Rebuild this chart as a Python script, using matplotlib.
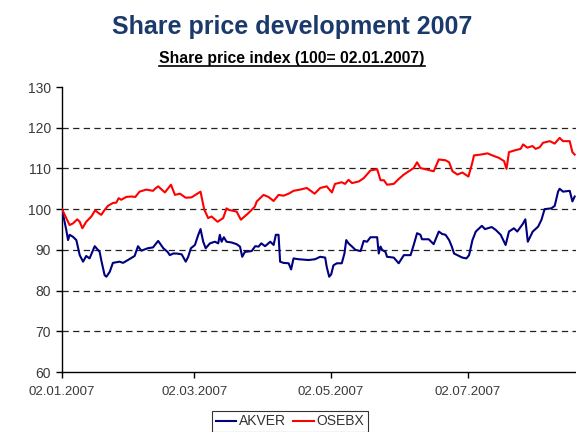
import matplotlib
matplotlib.use("Agg")
import matplotlib.pyplot as plt
import matplotlib.dates as mdates
from matplotlib.lines import Line2D
import pandas as pd

plt.rcParams['font.family'] = ['Liberation Sans', 'DejaVu Sans']

# Days after 02.01.2007 and index values (100 = 02.01.2007)
osebx_days = [0, 3.4, 4.9, 6.8, 7.9, 9.1, 10.8, 13.1, 14.8, 16.4, 17.5, 19.0, 20.5, 22.7, 24.2,
              25.3, 26.4, 28.7, 30.9, 32.7, 34.6, 37.6, 40.6, 41.5, 42.9, 45.9, 48.6, 50.4, 52.6,
              55.2, 57.8, 61.8, 63.4, 65.2, 66.7, 69.4, 71.9, 73.4, 74.5, 77.9, 79.8, 83.1, 86.0,
              86.9, 89.9, 92.1, 94.4, 96.6, 98.8, 101.1, 103.3, 106.2, 109.2, 110.7, 112.7, 115.2,
              118.1, 120.4, 121.8, 124.8, 126.3, 127.8, 129.4, 132.4, 134.6, 137.6, 140.6, 142.1,
              143.6, 145.0, 148.0, 150.2, 152.5, 154.7, 156.9, 158.4, 159.9, 162.9, 165.8, 168.1,
              171.1, 172.7, 174.2, 176.4, 178.6, 181.3, 182.8, 183.8, 186.8, 189.8, 192.0, 194.9,
              197.2, 198.3, 199.4, 202.4, 204.6, 205.7, 207.6, 209.9, 211.3, 213.1, 214.6, 217.6,
              219.8, 222.0, 223.5, 226.5, 227.7, 228.7]
osebx = [100.0, 96.1, 96.5, 97.5, 96.9, 95.3, 96.9, 98.2, 99.7, 99.0, 98.6, 99.8, 100.8, 101.5, 101.6,
         102.7, 102.3, 103.0, 103.1, 103.0, 104.3, 104.8, 104.5, 105.0, 105.6, 104.1, 106.0, 103.5, 103.8,
         102.8, 102.9, 104.3, 100.0, 97.8, 98.2, 96.9, 97.8, 100.2, 99.8, 99.4, 97.4, 99.0, 100.6,
         101.9, 103.5, 103.0, 102.0, 103.5, 103.3, 103.8, 104.5, 104.8, 105.2, 104.6, 103.8, 105.2,
         105.6, 104.1, 106.2, 106.6, 106.2, 107.2, 106.4, 106.8, 107.6, 109.5, 109.8, 107.1,
         107.1, 106.0, 106.2, 107.4, 108.5, 109.3, 110.1, 111.5, 110.1, 109.7, 109.3, 112.2,
         112.0, 111.5, 109.3, 108.5, 109.0, 108.0, 110.9, 113.2, 113.4, 113.7, 113.2, 112.6,
         111.8, 109.9, 114.0, 114.5, 114.8, 115.9, 115.1, 115.5, 114.8, 115.2, 116.3, 116.7,
         116.1, 117.5, 116.7, 116.7, 114.0, 113.4]

akver_days = [0, 1.9, 2.7, 3.4, 4.9, 6.4, 7.9, 9.4, 10.8, 12.3, 14.6, 16.8, 17.5, 19.0, 19.8, 21.3,
              22.7, 25.7, 27.2, 29.4, 32.4, 33.9, 35.4, 38.3, 40.6, 42.9, 45.2, 47.1, 48.1, 49.6,
              51.1, 53.4, 55.2, 56.3, 57.5, 59.3, 60.8, 61.8, 63.0, 64.1, 66.0, 68.2, 69.7, 70.4,
              71.2, 72.2, 73.4, 75.7, 77.9, 79.4, 80.4, 81.6, 84.6, 86.2, 87.7, 88.9, 90.6, 92.9,
              94.4, 95.4, 96.6, 97.3, 98.8, 101.1, 102.2, 103.3, 105.5, 110.0, 112.9, 115.2, 117.4,
              118.1, 119.2, 120.1, 121.1, 122.6, 124.8, 126.0, 126.8, 127.8, 129.4, 130.9, 133.2,
              134.6, 136.1, 137.6, 140.6, 141.3, 142.1, 142.8, 144.3, 145.0, 148.0, 150.2, 152.5,
              155.5, 156.9, 158.4, 159.9, 160.6, 163.6, 165.8, 168.1, 169.6, 171.1, 172.7, 173.9,
              174.9, 176.4, 178.6, 180.4, 181.6, 183.1, 184.6, 187.3, 188.7, 191.7, 193.5, 195.7,
              197.9, 199.4, 201.6, 203.1, 205.6, 206.7, 207.8, 210.0, 212.4, 213.9, 215.3, 218.3,
              219.8, 221.3, 222.0, 223.5, 226.5, 227.7, 228.7]
akver = [100.0, 94.9, 92.4, 93.7, 93.2, 92.4, 88.7, 87.1, 88.5, 87.9, 90.9, 89.5, 87.5, 83.8, 83.4, 84.6,
         86.8, 87.1, 86.8, 87.5, 88.5, 90.9, 89.8, 90.4, 90.6, 92.2, 90.4, 89.5, 88.7, 89.1,
         89.1, 88.9, 87.1, 88.3, 90.4, 91.2, 93.7, 95.1, 92.0, 90.4, 91.6, 92.0, 91.6, 93.7,
         92.0, 93.1, 92.0, 91.8, 91.4, 90.8, 88.3, 89.5, 89.7, 90.9, 90.8, 91.6, 90.9, 92.0,
         91.2, 93.7, 93.7, 87.1, 86.8, 86.7, 85.2, 87.9, 87.7, 87.5, 87.7, 88.3, 88.1,
         85.8, 83.4, 84.0, 86.2, 86.7, 86.7, 89.1, 92.4, 91.6, 90.8, 90.0, 89.7,
         92.2, 92.0, 93.1, 93.1, 89.1, 90.8, 90.0, 89.5, 88.3, 88.1, 86.7, 88.7,
         88.7, 91.2, 94.1, 93.7, 92.6, 92.6, 91.4, 94.5, 93.9, 93.7, 92.4, 90.8,
         89.1, 88.7, 88.1, 87.9, 88.7, 92.4, 94.5, 95.9, 95.1, 95.6, 94.9, 93.7,
         91.2, 94.5, 95.3, 94.5, 96.4, 97.5, 92.0, 94.5, 95.7, 97.4, 100.0, 100.2,
         100.8, 104.3, 105.0, 104.3, 104.5, 101.9, 103.1]

series_names = ["AKVER", "OSEBX"]
tick_dates = ["2007-01-02", "2007-03-02", "2007-05-02", "2007-07-02"]
y_ticks = [60, 70, 80, 90, 100, 110, 120, 130]
grid_levels = [70, 80, 90, 100, 110, 120]

start = pd.Timestamp("2007-01-02")
osebx_x = start + pd.to_timedelta(osebx_days, unit="D")
akver_x = start + pd.to_timedelta(akver_days, unit="D")

fig = plt.figure(figsize=(5.76, 4.32), dpi=100)
ax = fig.add_axes([62/576, 1-372/432, 1-62/576, (372-87)/432])

for lvl in grid_levels:
    ax.axhline(lvl, color="#222222", lw=0.9, ls=(0, (5, 3.5)), zorder=1)

ax.plot(akver_x, akver, color="#000080", lw=1.5, label=series_names[0], zorder=3)
ax.plot(osebx_x, osebx, color="#FF0000", lw=1.5, label=series_names[1], zorder=3)

ax.set_ylim(60, 130)
ax.set_yticks(y_ticks)
ax.set_xlim(start, start + pd.Timedelta(days=229.3))
ax.set_xticks(pd.to_datetime(tick_dates))
ax.xaxis.set_major_formatter(mdates.DateFormatter("%d.%m.%Y"))
ax.spines["top"].set_visible(False)
ax.spines["right"].set_visible(False)
for s in ["left", "bottom"]:
    ax.spines[s].set_color("black")
    ax.spines[s].set_linewidth(1.0)
ax.tick_params(axis="both", direction="out", length=4, width=1, color="black",
               labelsize=10, labelcolor="#3a3a3a")
ax.tick_params(axis="y", pad=4)
ax.tick_params(axis="x", pad=6, labelsize=9.5)
ax.set_facecolor("none")

fig.text(292/576, 1-27/432, "Share price development 2007", ha="center", va="center",
         fontsize=18, fontweight="bold", color="#1B3A6B")
sub = fig.text(292/576, 1-59/432, "Share price index (100= 02.01.2007)", ha="center", va="center",
               fontsize=11.3, fontweight="bold", color="black")

fig.canvas.draw()
bb = sub.get_window_extent()
uy = bb.y0 + 1
fig.add_artist(Line2D([bb.x0 / fig.bbox.width, bb.x1 / fig.bbox.width],
                      [uy / fig.bbox.height, uy / fig.bbox.height],
                      transform=fig.transFigure, color="black", lw=1.2))

leg = fig.legend(loc="upper center", bbox_to_anchor=(290/576, 1-411/432), ncol=2,
                 fontsize=10, frameon=True, fancybox=False, edgecolor="black",
                 handlelength=1.5, handletextpad=0.2, columnspacing=0.5,
                 borderpad=0.25, borderaxespad=0)
leg.get_frame().set_linewidth(0.8)
for t in leg.get_texts():
    t.set_color("#333333")

fig.savefig("out.png", dpi=100)
